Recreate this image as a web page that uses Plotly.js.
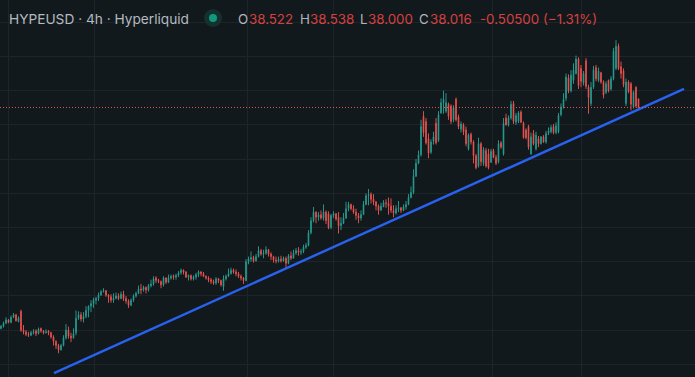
<!DOCTYPE html>
<html>
<head>
<meta charset="utf-8">
<script src="https://cdn.plot.ly/plotly-3.0.1.min.js"></script>
<style>html,body{margin:0;padding:0;background:#12191d;overflow:hidden}#chart{width:695px;height:377px}</style>
</head>
<body>
<div id="chart"></div>
<script>
const opens = [
25.1,25.22,25.4,25.6,25.45,25.75,25.9,25.5,26.1,25.0,
24.9,24.75,24.7,24.85,24.95,24.8,25.1,24.95,24.85,24.95,
24.85,24.6,24.35,24.1,23.85,24.1,24.55,25.0,24.65,24.55,
24.85,25.7,25.9,25.65,25.8,26.15,26.4,26.55,26.75,26.85,
27.05,27.25,27.3,27.05,26.95,26.75,26.85,27.0,26.85,27.1,
26.85,26.7,26.45,26.75,27.0,27.15,27.4,27.35,27.5,27.35,
27.6,27.7,28.05,27.9,27.85,27.65,28.05,27.8,28.05,28.15,
28.1,28.2,28.35,28.5,28.4,28.1,28.2,28.0,28.1,28.25,
28.4,28.3,28.15,28.05,27.95,27.85,27.75,28.0,27.9,27.55,
28.0,28.15,28.3,28.5,28.4,28.3,28.15,28.05,27.9,29.0,
29.15,29.25,29.05,29.3,29.65,29.45,29.5,29.7,29.45,29.3,
29.1,29.05,29.15,29.05,29.2,28.9,29.35,29.2,29.5,29.65,
29.55,29.6,29.85,29.95,30.7,31.4,31.9,31.6,31.75,31.55,
31.9,31.8,31.0,31.7,31.8,31.6,31.1,31.25,31.55,32.1,
32.35,32.1,31.9,31.7,31.55,31.75,32.35,32.85,32.95,32.65,
32.5,32.25,32.0,32.2,32.45,32.4,32.25,32.0,31.85,32.1,
32.15,32.0,32.2,32.35,32.75,33.05,34.0,34.75,35.25,37.5,
37.2,36.2,35.4,36.05,37.1,36.1,37.7,38.3,37.8,38.2,
38.1,37.3,38.5,37.45,36.75,37.0,36.7,35.6,36.45,36.0,
35.2,34.6,35.9,34.75,35.5,35.3,34.8,35.5,35.1,34.85,
35.95,35.3,37.4,37.0,37.4,38.25,37.15,37.2,37.75,37.1,
36.7,36.9,35.3,36.5,35.6,36.2,35.9,36.3,36.0,36.5,
36.6,36.9,36.55,36.6,37.6,38.05,38.55,39.75,39.0,39.6,
40.0,40.85,40.3,39.45,40.75,39.2,38.25,39.2,40.35,39.6,
40.05,39.5,38.9,39.6,39.1,39.7,40.3,41.6,40.4,40.15,
38.25,39.5,39.4,38.05,39.2,38.522];
const highs = [
25.3,25.5,25.75,25.65,25.85,26.0,25.95,25.8,26.2,25.3,
25.0,24.9,24.95,25.05,25.05,25.15,25.15,25.0,25.05,25.0,
24.9,24.7,24.4,24.2,24.2,24.7,25.35,25.2,24.85,25.1,
26.15,26.1,26.05,26.05,26.4,26.45,26.75,26.9,26.95,27.2,
27.35,27.45,27.35,27.1,27.1,27.15,27.2,27.15,27.25,27.3,
27.0,26.8,26.85,27.1,27.25,27.6,27.7,27.6,27.55,27.7,
27.95,28.15,28.15,28.0,27.9,28.15,28.1,28.25,28.25,28.25,
28.3,28.45,28.6,28.55,28.45,28.25,28.25,28.2,28.35,28.5,
28.45,28.4,28.2,28.15,28.05,27.95,28.1,28.05,27.95,28.2,
28.25,28.6,28.65,28.6,28.55,28.4,28.25,28.1,29.15,29.3,
29.6,29.35,29.45,29.9,29.75,29.7,29.9,29.75,29.55,29.35,
29.3,29.3,29.35,29.3,29.3,29.45,29.6,29.7,29.8,29.85,
29.75,30.0,30.1,30.85,31.6,32.2,31.95,31.9,32.0,32.35,
32.0,31.95,31.8,31.95,31.85,31.9,31.6,31.85,32.5,32.5,
32.4,32.3,32.1,31.85,32.0,32.55,33.0,33.25,33.05,32.95,
32.55,32.35,32.45,32.6,32.65,32.75,32.7,32.3,32.3,32.55,
32.2,32.35,32.55,32.95,33.4,34.4,35.0,35.5,37.3,37.8,
37.4,36.5,36.15,36.6,37.4,37.8,38.55,39.0,38.85,38.3,
38.2,38.15,38.6,37.6,37.2,37.1,36.9,36.5,36.55,36.1,
35.3,36.25,36.0,35.7,35.65,35.6,35.6,35.6,35.25,36.1,
36.05,37.4,37.65,37.55,38.4,38.4,37.7,37.8,37.85,37.2,
36.8,37.0,36.55,36.7,36.6,36.35,36.35,36.4,36.65,36.85,
37.0,37.05,37.15,37.7,38.25,38.85,40.0,39.95,40.2,40.6,
41.05,40.95,40.5,40.15,40.9,39.35,39.5,40.45,40.5,40.35,
40.1,39.6,39.55,39.65,39.85,41.5,41.95,41.75,40.7,40.3,
39.7,39.6,39.5,39.0,39.25,38.538];
const lows = [
25.05,25.15,25.35,25.4,25.4,25.7,25.5,25.45,24.9,24.75,
24.65,24.6,24.65,24.75,24.65,24.75,24.85,24.75,24.8,24.7,
24.5,24.1,23.9,23.65,23.8,24.05,24.45,24.5,24.3,24.5,
24.7,25.6,25.5,25.45,25.7,25.75,26.05,26.3,26.5,26.7,
27.0,27.2,26.95,26.6,26.6,26.6,26.8,26.75,26.8,26.7,
26.55,26.3,26.4,26.65,26.9,27.1,27.1,27.25,27.15,27.25,
27.5,27.6,27.75,27.75,27.45,27.55,27.7,27.75,27.95,27.95,
27.95,28.1,28.25,28.25,28.05,27.9,27.9,27.9,27.95,28.1,
28.15,28.1,27.95,27.8,27.7,27.65,27.65,27.75,27.55,27.3,
27.9,28.1,28.25,28.3,28.15,28.05,27.9,27.7,27.85,28.85,
29.0,28.95,29.0,29.25,29.35,29.2,29.4,29.3,29.1,28.95,
28.9,28.95,28.95,29.0,28.65,28.85,29.1,29.2,29.4,29.35,
29.4,29.5,29.75,29.9,30.6,31.3,31.25,31.4,31.45,31.4,
31.2,30.9,30.9,31.55,31.4,30.65,30.85,31.2,31.5,31.95,
32.0,31.8,31.45,31.25,31.4,31.75,32.3,32.3,32.4,32.3,
32.0,31.75,32.0,32.2,32.15,31.75,31.85,31.6,31.75,31.9,
31.85,31.95,32.05,32.3,32.7,32.95,33.95,34.7,35.15,36.3,
35.85,35.05,35.3,35.85,35.85,36.0,37.65,37.65,37.7,37.3,
37.05,37.15,37.2,36.75,36.55,36.4,35.75,35.5,35.85,34.75,
34.4,34.5,34.6,34.6,34.5,34.4,34.8,35.05,34.65,34.75,
35.6,35.2,36.95,36.9,37.3,37.05,37.0,37.1,37.1,36.2,
36.15,35.55,35.25,35.8,35.5,35.7,35.85,35.95,35.9,36.4,
36.5,36.45,36.45,36.5,37.5,37.95,38.4,38.85,38.9,39.4,
39.95,39.1,39.2,39.3,39.1,37.65,38.1,39.1,39.55,39.5,
39.4,38.55,38.8,38.9,39.0,39.6,40.2,40.2,39.7,39.2,
38.1,38.85,37.85,37.95,38.0,38.0];
const closes = [
25.22,25.4,25.6,25.45,25.75,25.9,25.55,25.7,25.0,24.9,
24.75,24.7,24.85,24.9,24.8,25.05,24.95,24.85,24.9,24.85,
24.6,24.35,24.1,23.85,24.1,24.55,25.0,24.65,24.55,24.8,
25.7,25.9,25.65,25.8,26.15,26.4,26.55,26.75,26.85,27.05,
27.25,27.3,27.05,26.95,26.75,26.85,27.0,26.85,27.1,26.85,
26.7,26.45,26.75,27.0,27.15,27.4,27.35,27.5,27.35,27.6,
27.7,28.0,27.9,27.85,27.65,28.05,27.8,28.05,28.15,28.1,
28.2,28.35,28.5,28.4,28.1,28.2,28.0,28.1,28.25,28.4,
28.3,28.15,28.05,27.95,27.85,27.75,28.0,27.9,27.65,28.0,
28.15,28.3,28.5,28.4,28.3,28.15,28.05,27.9,29.0,29.15,
29.25,29.05,29.3,29.65,29.45,29.5,29.7,29.45,29.3,29.1,
29.05,29.15,29.05,29.2,28.9,29.35,29.2,29.5,29.65,29.55,
29.6,29.85,29.95,30.7,31.4,31.9,31.6,31.75,31.55,31.9,
31.4,31.0,31.7,31.8,31.5,31.1,31.25,31.55,32.1,32.35,
32.1,31.9,31.7,31.55,31.75,32.35,32.85,32.9,32.65,32.5,
32.25,32.0,32.25,32.45,32.4,32.25,32.0,31.85,32.1,32.15,
32.0,32.2,32.35,32.75,33.05,34.0,34.75,35.25,36.9,36.55,
35.95,35.35,36.0,36.3,35.95,37.6,38.3,38.5,38.3,37.5,
37.2,38.0,37.3,36.9,37.05,36.6,35.9,36.4,36.0,35.2,
34.5,35.9,34.85,35.55,34.6,34.5,35.45,35.1,34.75,35.9,
35.7,37.1,37.0,37.4,38.2,37.2,37.55,37.7,37.15,36.25,
36.25,35.7,36.3,35.9,36.4,35.9,36.3,36.0,36.5,36.65,
36.85,36.55,36.95,37.55,38.05,38.5,39.8,39.0,39.9,40.2,
40.85,39.3,39.55,40.0,39.25,38.6,39.2,40.2,39.7,40.15,
39.5,38.75,39.4,39.0,39.7,41.3,41.6,40.3,40.0,39.35,
39.5,38.95,38.2,38.9,38.1,38.016];

const barIndex = closes.map((_, i) => i);
const lastPrice = 38.016;
const trendBars = [21.2, 273.2];
const trendPrices = [22.49, 39.1];
const gridBars = [2.8, 37.2, 98.4, 132.8, 196.4, 232];
const gridPrices = [23, 25, 27, 29, 31, 33, 35, 37, 39, 41, 43];

const headerTitle = 'HYPEUSD · 4h · Hyperliquid';
const headerParts = [
  ['O', 238, 'grey'], ['38.522', 248.5, 'red'],
  ['H', 299.5, 'grey'], ['38.538', 309.5, 'red'],
  ['L', 360.5, 'grey'], ['38.000', 368.5, 'red'],
  ['C', 419.5, 'grey'], ['38.016', 429.5, 'red'],
  ['-0.50500', 479.5, 'red'], ['(−1.31%)', 542.5, 'red']
];

const W = 695, H = 377;
const colors = {grey: '#aeb4bb', red: '#d8403f'};
const annotations = [{
  text: headerTitle, x: 9 / W, y: 1 - 18.5 / H, xref: 'paper', yref: 'paper',
  xanchor: 'left', yanchor: 'middle', showarrow: false, xshift: -2,
  font: {family: 'Inter, sans-serif', size: 13.7, color: '#b4bac0'}
}].concat(headerParts.map(p => ({
  text: p[0], x: p[1] / W, y: 1 - 18.5 / H, xref: 'paper', yref: 'paper',
  xanchor: 'left', yanchor: 'middle', showarrow: false, xshift: -2,
  font: {family: 'Inter, sans-serif', size: 13.3, color: colors[p[2]]}
})));

const traces = [
  {type: 'candlestick', x: barIndex, open: opens, high: highs, low: lows, close: closes,
   increasing: {line: {color: '#26a293', width: 0.9}, fillcolor: '#26a293'},
   decreasing: {line: {color: '#f4524f', width: 0.9}, fillcolor: '#f4524f'},
   whiskerwidth: 0, hoverinfo: 'skip', showlegend: false},
  {type: 'scatter', mode: 'lines', x: trendBars, y: trendPrices,
   line: {color: '#2962ef', width: 2.4}, hoverinfo: 'skip', showlegend: false}
];

const layout = {
  width: W, height: H,
  margin: {l: 0, r: 0, t: 0, b: 0, pad: 0},
  paper_bgcolor: '#12191d', plot_bgcolor: '#12191d',
  showlegend: false,
  boxgap: 0.65,
  xaxis: {range: [-0.4, 277.6], tickmode: 'array', tickvals: gridBars, showticklabels: false,
          ticks: '', showgrid: true, gridcolor: '#1d2529', gridwidth: 1, zeroline: false,
          showline: false, rangeslider: {visible: false}, fixedrange: true},
  yaxis: {range: [22.26, 44.30], tickmode: 'array', tickvals: gridPrices, showticklabels: false,
          ticks: '', showgrid: true, gridcolor: '#1d2529', gridwidth: 1, zeroline: false,
          showline: false, fixedrange: true},
  shapes: [
    {type: 'line', xref: 'paper', x0: 0, x1: 1, yref: 'y', y0: lastPrice, y1: lastPrice,
     line: {color: '#e5524f', width: 1, dash: '1px 2px'}, layer: 'above'},
    {type: 'circle', xref: 'paper', yref: 'paper', x0: 204 / W, x1: 222 / W,
     y0: 1 - 27 / H, y1: 1 - 9 / H, fillcolor: '#14302f', line: {width: 0}, layer: 'above'},
    {type: 'circle', xref: 'paper', yref: 'paper', x0: 209 / W, x1: 217 / W,
     y0: 1 - 22 / H, y1: 1 - 14 / H, fillcolor: '#0f9a80', line: {width: 0}, layer: 'above'}
  ],
  annotations: annotations
};

Plotly.newPlot('chart', traces, layout, {displayModeBar: false, staticPlot: true});
</script>
</body>
</html>
